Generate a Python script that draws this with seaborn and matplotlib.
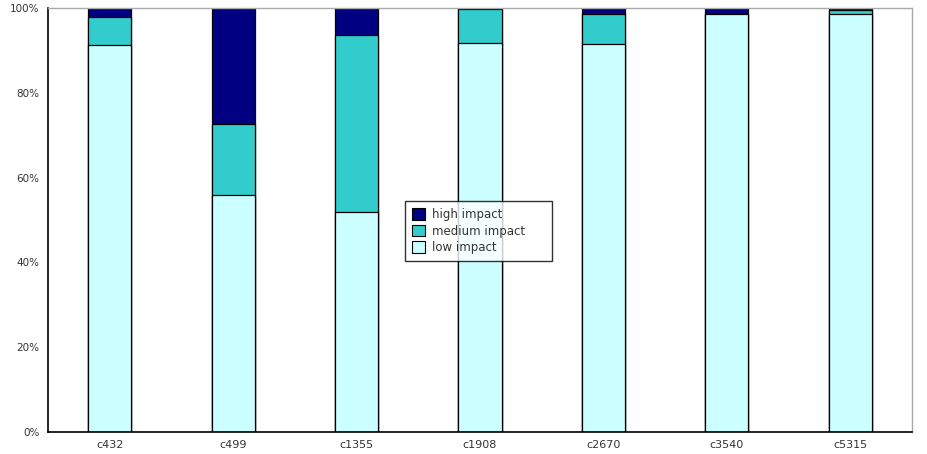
import numpy as np
import pandas as pd
import matplotlib
matplotlib.use("Agg")
import matplotlib.pyplot as plt
import seaborn as sns
from matplotlib.patches import Patch
from matplotlib.ticker import FuncFormatter

# datos (porcentaje por categoria)
categories = ["c432", "c499", "c1355", "c1908", "c2670", "c3540", "c5315"]
low_impact = [91.3, 55.9, 51.9, 91.7, 91.5, 98.6, 98.6]
medium_impact = [6.6, 16.7, 41.7, 8.0, 7.1, 0.0, 0.9]
high_impact = [2.1, 27.4, 6.4, 0.3, 1.4, 1.4, 0.5]
series_names = ["high impact", "medium impact", "low impact"]

colors = {"high impact": "#000080", "medium impact": "#33CCCC", "low impact": "#CCFFFF"}

df = pd.DataFrame({
    "cat": categories,
    "low": low_impact,
    "medium": medium_impact,
    "high": high_impact,
})
df["low_top"] = df["low"]
df["medium_top"] = df["low"] + df["medium"]
df["high_top"] = df["low"] + df["medium"] + df["high"]

sns.set_style("white")
plt.rcParams["font.family"] = ["DejaVu Sans"]

fig = plt.figure(figsize=(9.27, 4.54), dpi=100)
ax = fig.add_axes([48 / 927, 22 / 454, 864 / 927, 424 / 454])

# barras apiladas: se dibuja de arriba hacia abajo
for col, name in zip(["high_top", "medium_top", "low_top"], series_names):
    sns.barplot(data=df, x="cat", y=col, order=categories, color=colors[name],
                width=0.35, edgecolor="black", linewidth=0.9, saturation=1, ax=ax)

ax.set_ylim(0, 100)
ax.set_xlim(-0.5, len(categories) - 0.5)
ax.set_yticks(np.arange(0, 101, 20))
ax.yaxis.set_major_formatter(FuncFormatter(lambda v, p: f"{v:.0f}%"))
ax.set_xlabel("")
ax.set_ylabel("")

# ticks del eje x en los limites entre categorias
ax.set_xticks(np.arange(-0.5, len(categories), 1.0))
ax.set_xticklabels([])
ax.set_xticks(np.arange(len(categories)), minor=True)
ax.set_xticklabels(categories, minor=True)
ax.tick_params(axis="x", which="major", direction="out", length=4, width=1, color="black")
ax.tick_params(axis="x", which="minor", length=0, pad=6, labelsize=8, labelcolor="#333333")
ax.tick_params(axis="y", direction="out", length=4, width=1, color="black",
               labelsize=7.5, pad=2, labelcolor="#333333")

for s in ["left", "bottom"]:
    ax.spines[s].set_color("black")
    ax.spines[s].set_linewidth(1.2)
for s in ["top", "right"]:
    ax.spines[s].set_color("#aaaaaa")
    ax.spines[s].set_linewidth(1.0)

# leyenda en el centro, caja algo mas ancha como en el original
handles = [Patch(facecolor=colors[n], edgecolor="black", linewidth=0.8, label=n) for n in series_names]
leg = ax.legend(handles=handles, loc="upper left", mode="expand",
                bbox_to_anchor=((405 - 48) / 864, 0.40, 147 / 864, (432 - 201) / 424 - 0.40),
                frameon=True, fancybox=False, fontsize=8.5, handlelength=1.1, handleheight=1.1,
                handletextpad=0.6, labelspacing=0.3, borderpad=0.6, borderaxespad=0)
leg.get_frame().set_edgecolor("black")
leg.get_frame().set_linewidth(1.0)
for t in leg.get_texts():
    t.set_color("#333333")

fig.savefig("out.png", dpi=100)
